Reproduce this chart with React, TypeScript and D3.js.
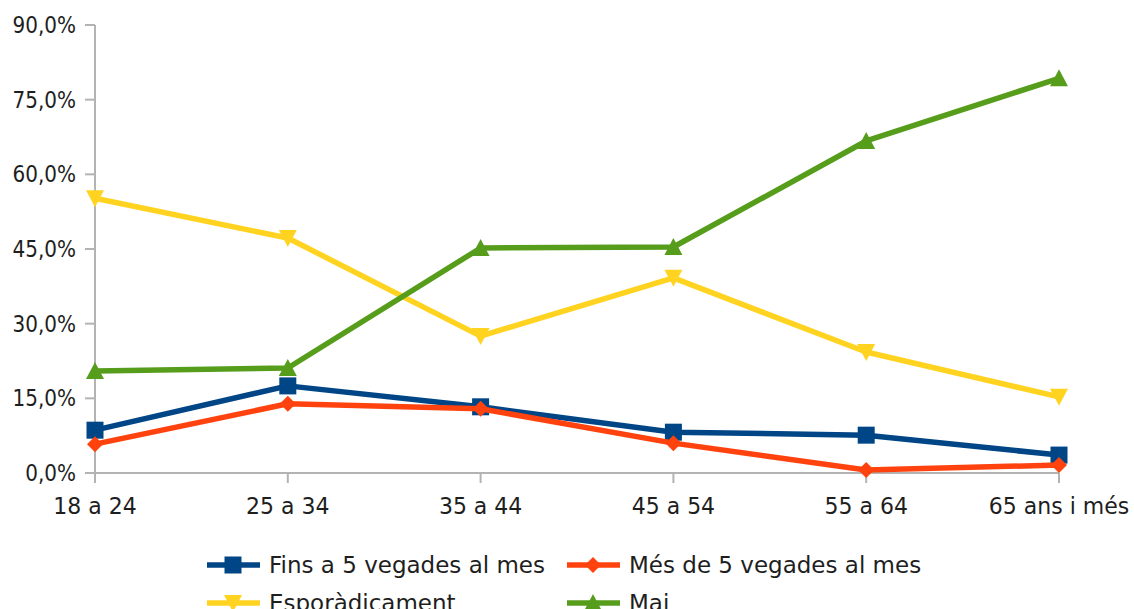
import React from "react";
import * as d3 from "d3";

const categories = ["18 a 24", "25 a 34", "35 a 44", "45 a 54", "55 a 64", "65 ans i més"];
const yTicks = [0, 15, 30, 45, 60, 75, 90];
const seriesNames = ["Fins a 5 vegades al mes", "Més de 5 vegades al mes", "Esporàdicament", "Mai"];
const fins5 = [8.6, 17.5, 13.3, 8.2, 7.6, 3.6];
const mes5 = [5.8, 13.9, 12.9, 6.0, 0.6, 1.6];
const esporadic = [55.2, 47.2, 27.5, 39.2, 24.3, 15.3];
const mai = [20.5, 21.1, 45.2, 45.4, 66.7, 79.3];

const colors = ["#004586", "#ff420e", "#ffd320", "#579d1c"];
const shapes = ["square", "diamond", "down", "up"];
const seriesValues = [fins5, mes5, esporadic, mai];

const W = 1134, H = 609;
const left = 95, right = 1059, top = 25, bottom = 473;
const FONT = "'DejaVu Sans', sans-serif";
const TEXT = "#1e1e1e";

function Marker({ shape, x, y, color }: { shape: string; x: number; y: number; color: string }) {
  if (shape === "square") return <rect x={x - 8.5} y={y - 8.5} width={17} height={17} fill={color} />;
  if (shape === "diamond") return <path d={`M${x},${y - 8}L${x + 8},${y}L${x},${y + 8}L${x - 8},${y}Z`} fill={color} />;
  if (shape === "down") return <path d={`M${x - 9},${y - 8}L${x + 9},${y - 8}L${x},${y + 9}Z`} fill={color} />;
  return <path d={`M${x - 9},${y + 8}L${x + 9},${y + 8}L${x},${y - 9}Z`} fill={color} />;
}

function Txt({ x, y, size, anchor, sy, children }: { x: number; y: number; size: number; anchor: string; sy: number; children: React.ReactNode }) {
  return (
    <text
      transform={`translate(${x},${y}) scale(1,${sy})`}
      textAnchor={anchor as any}
      fontFamily={FONT}
      fontSize={size}
      fill={TEXT}
    >
      {children}
    </text>
  );
}

export default function App() {
  const x = d3.scalePoint<string>().domain(categories).range([left, right]);
  const y = d3.scaleLinear().domain([0, 90]).range([bottom, top]);
  const line = d3.line<number>().x((_, i) => x(categories[i])!).y((d) => y(d));
  const fmt = (v: number) => v.toFixed(1).replace(".", ",") + "%";

  const legend = [
    { i: 0, lx: 207, ly: 565 },
    { i: 1, lx: 567, ly: 565 },
    { i: 2, lx: 207, ly: 603 },
    { i: 3, lx: 567, ly: 603 },
  ];

  return (
    <svg width={W} height={H} style={{ position: "absolute", left: 0, top: 0, background: "#fff" }}>
      <g stroke="#b3b3b3" strokeWidth={2}>
        <line x1={left} x2={left} y1={top} y2={bottom} />
        <line x1={left} x2={right} y1={bottom} y2={bottom} />
        {yTicks.map((t) => (
          <line key={t} x1={left - 10} x2={left} y1={y(t)} y2={y(t)} />
        ))}
        {categories.map((c) => (
          <line key={c} x1={x(c)} x2={x(c)} y1={bottom} y2={bottom + 10} />
        ))}
      </g>
      {yTicks.map((t) => (
        <Txt key={t} x={76} y={y(t) + 8} size={20} anchor="end" sy={1.12}>{fmt(t)}</Txt>
      ))}
      {categories.map((c) => (
        <Txt key={c} x={x(c)!} y={514} size={22} anchor="middle" sy={1.05}>{c}</Txt>
      ))}
      {seriesValues.map((vals, si) => (
        <g key={si}>
          <path d={line(vals)!} fill="none" stroke={colors[si]} strokeWidth={5.5} strokeLinejoin="round" />
          {vals.map((v, i) => (
            <Marker key={i} shape={shapes[si]} x={x(categories[i])!} y={y(v)} color={colors[si]} />
          ))}
        </g>
      ))}
      {legend.map(({ i, lx, ly }) => (
        <g key={i}>
          <line x1={lx} x2={lx + 53} y1={ly} y2={ly} stroke={colors[i]} strokeWidth={5.5} />
          <Marker shape={shapes[i]} x={lx + 26} y={ly} color={colors[i]} />
          <Txt x={lx + 62} y={ly + 8} size={23} anchor="start" sy={1}>{seriesNames[i]}</Txt>
        </g>
      ))}
    </svg>
  );
}
